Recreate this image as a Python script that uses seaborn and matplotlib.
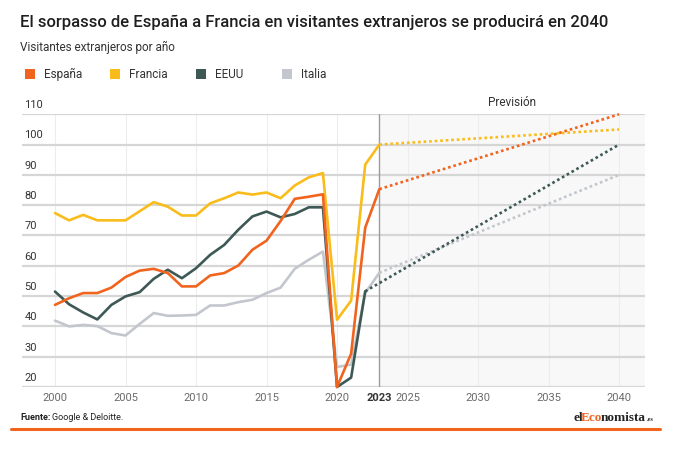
import pandas as pd
import seaborn as sns
import matplotlib.pyplot as plt
from matplotlib.patches import Rectangle
from matplotlib.lines import Line2D
from matplotlib.font_manager import FontProperties, findfont, get_font

# Datos (millones de visitantes extranjeros por año)
anios = list(range(2000, 2024))
espana = [47.1, 49.3, 51.0, 51.0, 52.8, 56.3, 58.4, 59.0, 57.6, 53.2, 53.2, 56.8,
          57.6, 60.1, 65.3, 68.3, 74.8, 82.1, 82.8, 83.6, 20.0, 31.0, 72.6, 85.3]
francia = [77.4, 75.0, 76.8, 75.0, 75.0, 75.0, 78.0, 81.0, 79.5, 76.6, 76.6, 80.6,
           82.3, 84.2, 83.5, 84.2, 82.3, 86.5, 89.2, 90.6, 42.2, 48.5, 93.4, 100.0]
# EEUU no tiene dato de 2023: la serie real acaba en 2022
eeuu = [51.5, 47.3, 44.6, 42.3, 47.1, 49.9, 51.3, 55.7, 58.7, 55.9, 59.2, 63.6,
        66.9, 71.9, 76.3, 77.9, 76.0, 77.1, 79.3, 79.3, 20.0, 23.1, 51.6]
italia = [41.9, 40.0, 40.5, 40.1, 37.8, 37.0, 40.8, 44.4, 43.5, 43.6, 43.8, 46.9,
          46.9, 48.0, 48.8, 51.0, 52.8, 59.0, 62.0, 64.7, 26.6, 27.4, 51.0, 57.7]

# Previsión: punto de partida y valor en 2040
prev_anios = [2023, 2040]
prev_anios_eeuu = [2022, 2040]
prev_espana = [85.3, 110.0]
prev_francia = [100.0, 105.0]
prev_eeuu = [51.6, 100.0]
prev_italia = [57.7, 90.0]

paises = ['España', 'Francia', 'EEUU', 'Italia']
colores = {'España': '#f0641e', 'Francia': '#f9bc1a', 'EEUU': '#3e5856', 'Italia': '#c3c7cd'}
xticks = [2000, 2005, 2010, 2015, 2020, 2023, 2025, 2030, 2035, 2040]
yticks = [20, 30, 40, 50, 60, 70, 80, 90, 100, 110]

# Tabla larga para seaborn
filas = []
reales = {'España': (anios, espana), 'Francia': (anios, francia),
          'EEUU': (anios[:len(eeuu)], eeuu), 'Italia': (anios, italia)}
prevs = {'España': (prev_anios, prev_espana), 'Francia': (prev_anios, prev_francia),
         'EEUU': (prev_anios_eeuu, prev_eeuu), 'Italia': (prev_anios, prev_italia)}
for p in paises:
    for a, v in zip(*reales[p]):
        filas.append({'anio': a, 'valor': v, 'pais': p, 'tipo': 'Real'})
    for a, v in zip(*prevs[p]):
        filas.append({'anio': a, 'valor': v, 'pais': p, 'tipo': 'Previsión'})
df = pd.DataFrame(filas)

sns.set_theme(style='white')
plt.rcParams['font.family'] = ['Roboto', 'DejaVu Sans']

fig = plt.figure(figsize=(6.9, 4.65), dpi=100)
ax = fig.add_axes([22 / 690, 1 - 387 / 465, 623 / 690, (387 - 114.3) / 465])

xmin, xmax = 1997.66, 2041.84
# zona de previsión sombreada
ax.axvspan(2023, xmax, color='#f8f8f8', zorder=0, lw=0)

sns.lineplot(data=df, x='anio', y='valor', hue='pais', style='tipo',
             hue_order=paises[::-1], style_order=['Real', 'Previsión'],
             palette=colores, dashes={'Real': '', 'Previsión': (1, 1.1)},
             linewidth=1.9, estimator=None, sort=True, legend=False, ax=ax)
for ln in ax.lines:
    ln.set_clip_on(False)
    ln.set_solid_joinstyle('round')

ax.axvline(2023, color='#9c9c9c', lw=1, zorder=1.5)

ax.set_xlim(xmin, xmax)
ax.set_ylim(20, 110)
ax.set_axisbelow(True)
ax.grid(axis='y', color='#d6d6d6', lw=1.6)
ax.grid(axis='x', color='#ededed', lw=0.8)
for s in ax.spines.values():
    s.set_visible(False)
ax.set_xlabel('')
ax.set_ylabel('')

ax.set_xticks(xticks)
ax.set_xticklabels([str(t) for t in xticks])
ax.tick_params(axis='x', length=0, pad=4, labelsize=8, labelcolor='#6a6a6a')
for lbl in ax.get_xticklabels():
    if lbl.get_text() == '2023':
        lbl.set_fontweight('bold')
        lbl.set_color('#333333')

# etiquetas del eje y encima de cada línea de rejilla
ax.set_yticks(yticks)
ax.tick_params(axis='y', length=0, labelleft=False)
for v in yticks:
    ax.annotate(str(v), xy=(0.004, v), xycoords=ax.get_yaxis_transform(),
                xytext=(0, 3), textcoords='offset points', ha='left', va='bottom',
                fontsize=8, color='#333333', annotation_clip=False)

ax.annotate('Previsión', xy=((2023 + xmax) / 2, 110), xycoords='data',
            xytext=(0, 3.5), textcoords='offset points', ha='center', va='bottom',
            fontsize=8.5, color='#333333', annotation_clip=False)

# títulos
fig.text(20 / 690, 1 - 22 / 465, 'El sorpasso de España a Francia en visitantes extranjeros se producirá en 2040',
         fontsize=12, fontweight='medium', color='#1f1f1f', va='center', ha='left')
fig.text(20 / 690, 1 - 47 / 465, 'Visitantes extranjeros por año',
         fontsize=8.5, color='#333333', va='center', ha='left')

# leyenda manual con cuadrados
leg_x = [25, 110, 196, 282]
for x0, p in zip(leg_x, paises):
    fig.patches.append(Rectangle((x0 / 690, 1 - 79.3 / 465), 10 / 690, 10 / 465,
                                 transform=fig.transFigure, color=colores[p], lw=0))
    fig.text((x0 + 19) / 690, 1 - 74.3 / 465, p, fontsize=8.5, color='#333333',
             va='center', ha='left')

# fuente
t = fig.text(20 / 690, 1 - 417.5 / 465, 'Fuente:', fontsize=6.5, fontweight='bold',
             color='#222222', va='center', ha='left')
fig.canvas.draw()
r = fig.canvas.get_renderer()
bb = t.get_window_extent(r)
fig.text((bb.x1 + 2) / 690, 1 - 417.5 / 465, 'Google & Deloitte.', fontsize=6.5,
         color='#222222', va='center', ha='left')

# logo elEconomista.es: cada trozo se coloca con el avance de las letras
fuente_logo = get_font(findfont(FontProperties(family='Liberation Serif', weight='bold')))
fuente_logo.set_size(9.5, 100)


def avance(s):
    return sum(fuente_logo.load_char(ord(c)).linearHoriAdvance / 65536 for c in s)


x = 573.0
y_logo = 1 - 421 / 465
# (trozo, color, tamaño, ajuste fino tras el trozo)
for trozo, col, tam, ajuste in [('el', '#222222', 9.5, -1.5), ('Eco', '#f0641e', 9.5, -1.5),
                                ('nomista', '#222222', 9.5, 0.8), ('.es', '#222222', 4.5, 0)]:
    fig.text(x / 690, y_logo, trozo, fontsize=tam, fontweight='bold',
             family='Liberation Serif', color=col, va='baseline', ha='left')
    x += avance(trozo) + ajuste

# línea naranja inferior
fig.lines.append(Line2D([11 / 690, 660 / 690], [1 - 428.5 / 465] * 2,
                        transform=fig.transFigure, color='#f0641e', lw=2.2))

fig.savefig('out.png', dpi=100, facecolor='white')
